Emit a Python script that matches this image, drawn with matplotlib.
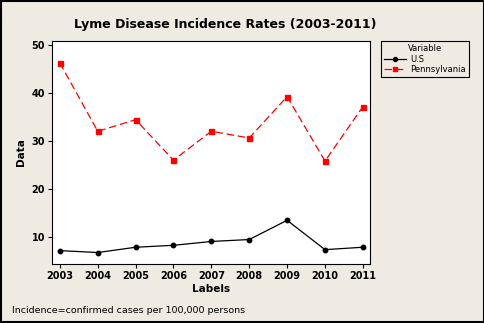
import matplotlib.pyplot as plt
from matplotlib.patches import Rectangle

years = [2003, 2004, 2005, 2006, 2007, 2008, 2009, 2010, 2011]
us = [7.2, 6.8, 7.9, 8.3, 9.1, 9.5, 13.5, 7.4, 7.9]
penn = [46.2, 32.0, 34.4, 26.0, 32.0, 30.6, 39.2, 25.8, 37.1]

bg = '#efebe3'
plt.rcParams['font.family'] = ['DejaVu Sans']

fig = plt.figure(figsize=(4.85, 3.23), dpi=100, facecolor=bg)
ax = fig.add_axes([0.107, 0.183, 0.656, 0.690])

ax.plot(years, us, color='black', lw=0.9, marker='o', ms=3.2, label='U.S')
ax.plot(years, penn, color='red', lw=0.9, ls=(0, (6, 3)), marker='s', ms=3.6, label='Pennsylvania')

ax.set_xlim(2002.79, 2011.19)
ax.set_ylim(4.44, 50.75)
ax.set_xticks(years)
ax.set_yticks([10, 20, 30, 40, 50])
ax.tick_params(direction='out', length=3, width=0.8, labelsize=7, pad=2)
for lab in ax.get_xticklabels() + ax.get_yticklabels():
    lab.set_fontweight('bold')
for s in ax.spines.values():
    s.set_linewidth(0.8)

ax.set_xlabel('Labels', fontsize=7.5, fontweight='bold', labelpad=2)
ax.set_ylabel('Data', fontsize=7.5, fontweight='bold', labelpad=4)
fig.text(0.465, 0.925, 'Lyme Disease Incidence Rates (2003-2011)', ha='center', va='center',
         fontsize=9, fontweight='bold')
fig.text(0.025, 0.04, 'Incidence=confirmed cases per 100,000 persons', ha='left', va='center',
         fontsize=6.8)

leg = fig.legend(loc='upper left', bbox_to_anchor=(0.786, 0.873), borderaxespad=0,
                 title='Variable', fontsize=6, title_fontsize=6, frameon=True, fancybox=False,
                 edgecolor='black', facecolor=bg, framealpha=1, handlelength=2.6,
                 borderpad=0.35, labelspacing=0.2, handletextpad=0.5, markerscale=0.9)
leg.get_frame().set_linewidth(0.8)

fig.patches.append(Rectangle((0.002, 0.003), 0.996, 0.994, transform=fig.transFigure,
                             fill=False, edgecolor='black', lw=1.5))

fig.savefig('out.png', dpi=100, facecolor=bg)
